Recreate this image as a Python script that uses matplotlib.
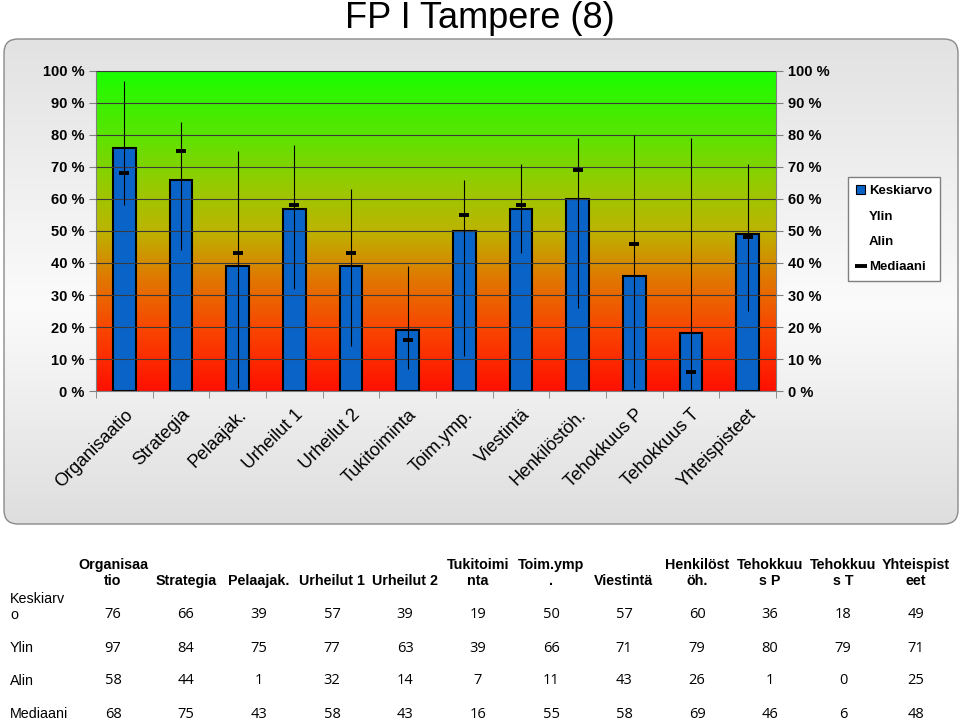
import numpy as np
import matplotlib
matplotlib.use("Agg")
import matplotlib.pyplot as plt
from matplotlib.colors import LinearSegmentedColormap
from matplotlib.patches import FancyBboxPatch, Patch
from matplotlib.lines import Line2D

plt.rcParams['font.family'] = ['Liberation Sans', 'DejaVu Sans']

categories = ["Organisaatio", "Strategia", "Pelaajak.", "Urheilut 1", "Urheilut 2", "Tukitoiminta",
              "Toim.ymp.", "Viestintä", "Henkilöstöh.", "Tehokkuus P", "Tehokkuus T", "Yhteispisteet"]
table_heads = ["Organisaa\ntio", "Strategia", "Pelaajak.", "Urheilut 1", "Urheilut 2", "Tukitoimi\nnta",
               "Toim.ymp\n.", "Viestintä", "Henkilöst\nöh.", "Tehokkuu\ns P", "Tehokkuu\ns T", "Yhteispist\neet"]
row_names = ["Keskiarv\no", "Ylin", "Alin", "Mediaani"]

keskiarvo = [76, 66, 39, 57, 39, 19, 50, 57, 60, 36, 18, 49]
ylin = [97, 84, 75, 77, 63, 39, 66, 71, 79, 80, 79, 71]
alin = [58, 44, 1, 32, 14, 7, 11, 43, 26, 1, 0, 25]
mediaani = [68, 75, 43, 58, 43, 16, 55, 58, 69, 46, 6, 48]

W, H = 960, 722
fig = plt.figure(figsize=(W / 100, H / 100), dpi=100)

# background layer in pixel coordinates
bg = fig.add_axes([0, 0, 1, 1], zorder=-5)
bg.set_xlim(0, W)
bg.set_ylim(H, 0)
bg.axis("off")

panel_cmap = LinearSegmentedColormap.from_list(
    "panel", [(0, "#e2e2e2"), (0.55, "#fbfbfb"), (1, "#dedede")])
grad = np.linspace(0, 1, 256).reshape(-1, 1)
img = bg.imshow(grad, cmap=panel_cmap, extent=[4, 958, 524, 39], aspect="auto", zorder=0)
panel = FancyBboxPatch((4, 39), 954, 485, boxstyle="round,pad=0,rounding_size=14",
                       facecolor="none", edgecolor="#8a8a8a", lw=1.0, zorder=1)
bg.add_patch(panel)
img.set_clip_path(panel)

fig.text(0.5, 1 - 18 / H, "FP I Tampere (8)", ha="center", va="center", fontsize=26)

# main plot
ax = fig.add_axes([96 / W, 1 - 391 / H, (776 - 96) / W, (391 - 71) / H])
x = np.arange(len(categories))

bar_cmap = LinearSegmentedColormap.from_list(
    "rg", [(0, "#ff1000"), (0.2, "#f84800"), (0.35, "#e07800"), (0.5, "#bcb400"),
           (0.65, "#94cc00"), (0.8, "#5ae400"), (1, "#18ff00")])
ax.imshow(np.linspace(0, 1, 256).reshape(-1, 1), cmap=bar_cmap, origin="lower",
          extent=[-0.5, len(categories) - 0.5, 0, 100], aspect="auto", zorder=0)

ax.set_xlim(-0.5, len(categories) - 0.5)
ax.set_ylim(0, 100)
ax.set_yticks(np.arange(0, 101, 10))
ax.set_yticklabels([f"{v} %" for v in range(0, 101, 10)], fontweight="bold", fontsize=10.5)
ax.grid(axis="y", color="#3a3a3a", lw=0.8, zorder=1)
ax.set_axisbelow(False)

ax.bar(x, keskiarvo, width=0.4, color="#0a64c8", edgecolor="black", lw=1.5, zorder=2)
ax.vlines(x, alin, ylin, color="black", lw=0.8, zorder=3)
ax.plot(x, mediaani, ls="none", marker="_", ms=7.5, mew=2.8, color="black", zorder=4)

ax.set_xticks(x)
ax.set_xticklabels(categories, rotation=45, ha="right", rotation_mode="anchor", fontsize=13)
ax.set_xticks(np.arange(-0.5, len(categories), 1), minor=True)
ax.tick_params(axis="x", which="major", length=0, pad=11)
ax.tick_params(axis="x", which="minor", length=5, color="#808080")
ax.tick_params(axis="y", length=5, color="#808080", right=True, labelright=True)
for s in ax.spines.values():
    s.set_color("#808080")
    s.set_linewidth(0.8)

handles = [Patch(facecolor="#0a64c8", edgecolor="black", lw=0.8),
           Line2D([], [], color="none"),
           Line2D([], [], color="none"),
           Line2D([], [], ls="none", marker="_", ms=8, mew=2.8, color="black")]
leg = fig.legend(handles, ["Keskiarvo", "Ylin", "Alin", "Mediaani"],
                 loc="upper left", bbox_to_anchor=(848 / W, 1 - 177 / H), borderaxespad=0,
                 fancybox=False, framealpha=1, edgecolor="#808080",
                 prop={"weight": "bold", "size": 9.5}, handlelength=0.7, handleheight=0.7,
                 handletextpad=0.3, labelspacing=1.0, borderpad=0.6)

# data table below the chart
col_x = [113 + 73 * i for i in range(len(categories))]
for cx, head in zip(col_x, table_heads):
    bg.text(cx, 588, head, ha="center", va="bottom", fontsize=10.3, fontweight="bold",
            multialignment="center", linespacing=1.2)

rows = [keskiarvo, ylin, alin, mediaani]
row_y = [615, 648, 681, 714]
for name, vals, ry in zip(row_names, rows, row_y):
    if "\n" in name:
        bg.text(10, ry + 7, name, ha="left", va="bottom", fontsize=10.3, linespacing=1.2)
    else:
        bg.text(10, ry, name, ha="left", va="center", fontsize=10.3)
    for cx, v in zip(col_x, vals):
        bg.text(cx, ry, str(v), ha="center", va="center", fontsize=10.5, family="Open Sans")

fig.savefig("out.png", dpi=100)
